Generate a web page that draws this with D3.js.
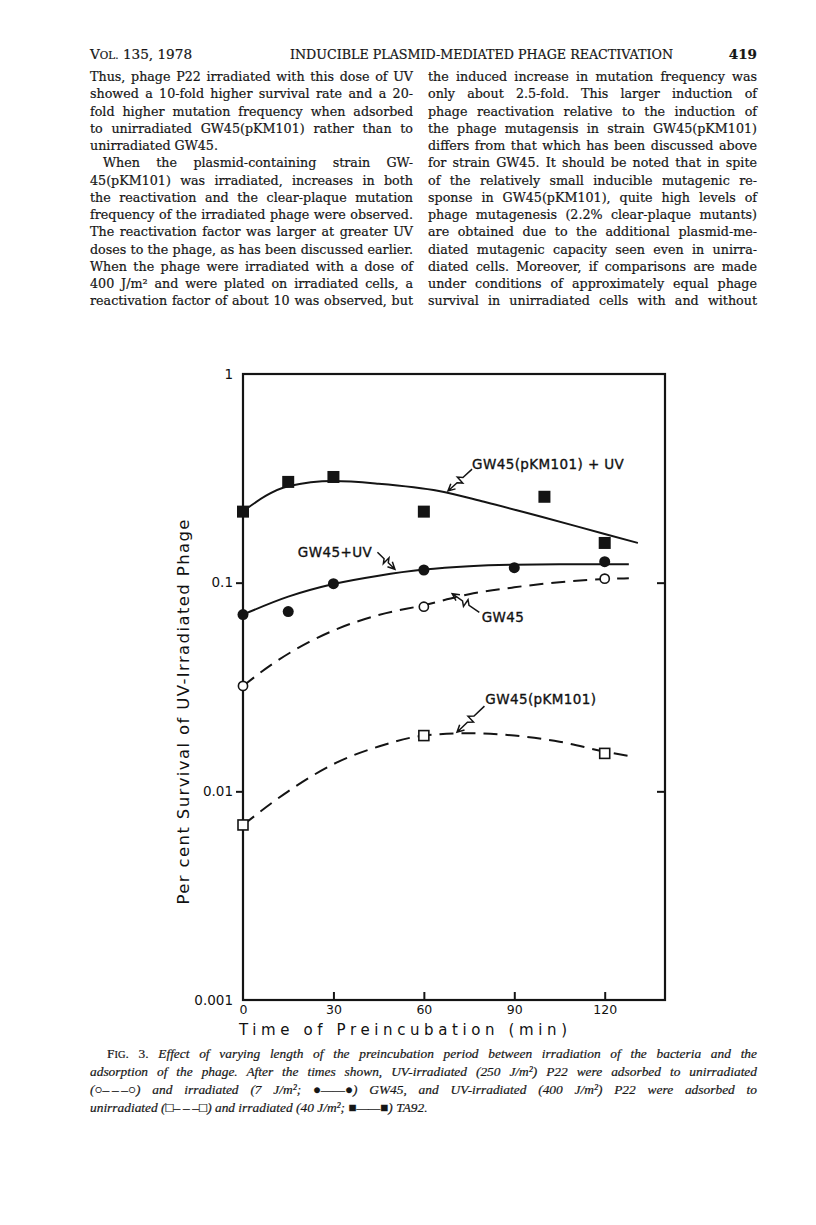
<!DOCTYPE html>
<html>
<head>
<meta charset="utf-8">
<script src="https://cdn.jsdelivr.net/npm/d3@7"></script>
<style>
  body { margin: 0; background: #fff; }
  svg { display: block; }
  .body-text { font-family: "DejaVu Serif", serif; font-size: 12.7px; fill: #161616; stroke: #161616; stroke-width: 0.2px; }
  .cap-text { font-family: "Liberation Serif", serif; font-size: 13.4px; font-style: italic; fill: #161616; stroke: #161616; stroke-width: 0.2px; }
  .chart-text { font-family: "DejaVu Sans", sans-serif; fill: #111; }
</style>
</head>
<body>
<script>
// PAGE TEXT
const headerLeft = ["V", "OL.", " 135, 1978"];
const headerTitle = "INDUCIBLE PLASMID-MEDIATED PHAGE REACTIVATION";
const headerPage = "419";

const leftLines = [
  "Thus, phage P22 irradiated with this dose of UV",
  "showed a 10-fold higher survival rate and a 20-",
  "fold higher mutation frequency when adsorbed",
  "to unirradiated GW45(pKM101) rather than to",
  "unirradiated GW45.",
  "When the plasmid-containing strain GW-",
  "45(pKM101) was irradiated, increases in both",
  "the reactivation and the clear-plaque mutation",
  "frequency of the irradiated phage were observed.",
  "The reactivation factor was larger at greater UV",
  "doses to the phage, as has been discussed earlier.",
  "When the phage were irradiated with a dose of",
  "400 J/m\u00b2 and were plated on irradiated cells, a",
  "reactivation factor of about 10 was observed, but",
];
const rightLines = [
  "the induced increase in mutation frequency was",
  "only about 2.5-fold. This larger induction of",
  "phage reactivation relative to the induction of",
  "the phage mutagensis in strain GW45(pKM101)",
  "differs from that which has been discussed above",
  "for strain GW45. It should be noted that in spite",
  "of the relatively small inducible mutagenic re-",
  "sponse in GW45(pKM101), quite high levels of",
  "phage mutagenesis (2.2% clear-plaque mutants)",
  "are obtained due to the additional plasmid-me-",
  "diated mutagenic capacity seen even in unirra-",
  "diated cells. Moreover, if comparisons are made",
  "under conditions of approximately equal phage",
  "survival in unirradiated cells with and without",
];
const captionLines = [
  "Effect of varying length of the preincubation period between irradiation of the bacteria and the",
  "adsorption of the phage. After the times shown, UV-irradiated (250 J/m\u00b2) P22 were adsorbed to unirradiated",
  "(\u25cb\u2013\u2009\u2013\u2009\u2013\u25cb) and irradiated (7 J/m\u00b2; \u25cf\u2014\u2014\u25cf) GW45, and UV-irradiated (400 J/m\u00b2) P22 were adsorbed to",
  "unirradiated (\u25a1\u2013\u2009\u2013\u2009\u2013\u25a1) and irradiated (40 J/m\u00b2; \u25a0\u2014\u2014\u25a0) TA92.",
];

// CHART DATA
const xTicks = [0, 30, 60, 90, 120];
const yTicks = [0.001, 0.01, 0.1, 1];
const yTickLabels = ["0.001", "0.01", "0.1", "1"];
const xLabel = "Time of Preincubation (min)";
const yLabel = "Per cent Survival of UV-Irradiated Phage";

// GW45(pKM101) + UV  (filled squares)
const pkmUvX = [0, 15, 30, 60, 100, 120];
const pkmUvY = [0.219, 0.304, 0.321, 0.219, 0.258, 0.155];
const pkmUvFitX = [0, 15, 30, 45, 65, 80, 99, 120, 131];
const pkmUvFitY = [0.22, 0.29, 0.307, 0.298, 0.275, 0.244, 0.207, 0.171, 0.155];

// GW45 + UV  (filled circles)
const gwUvX = [0, 15, 30, 60, 90, 120];
const gwUvY = [0.0703, 0.0727, 0.0989, 0.115, 0.118, 0.126];
const gwUvFitX = [0, 15, 30, 45, 60, 75, 90, 105, 120, 128];
const gwUvFitY = [0.0703, 0.0857, 0.0985, 0.108, 0.1155, 0.12, 0.122, 0.1225, 0.1225, 0.1225];

// GW45  (open circles)
const gwX = [0, 60, 120];
const gwY = [0.032, 0.0767, 0.1045];
const gwFitX = [0, 10, 22, 30, 45, 60, 75, 90, 105, 120, 128];
const gwFitY = [0.032, 0.041, 0.052, 0.059, 0.07, 0.078, 0.088, 0.095, 0.1005, 0.104, 0.105];

// GW45(pKM101)  (open squares)
const pkmX = [0, 60, 120];
const pkmY = [0.0069, 0.0185, 0.0152];
const pkmFitX = [0, 15, 30, 45, 60, 75, 90, 105, 120, 130];
const pkmFitY = [0.0069, 0.01, 0.0135, 0.0164, 0.0185, 0.019, 0.0185, 0.0173, 0.0155, 0.0146];

const seriesLabels = ["GW45(pKM101) + UV", "GW45+UV", "GW45", "GW45(pKM101)"];

const W = 816, H = 1225;
const ink = "#141414";

const svg = d3.select("body").append("svg").attr("width", W).attr("height", H);
svg.append("rect").attr("width", W).attr("height", H).attr("fill", "#fff");

// stretch the spaces so a line fills its column
function justify(sel, width) {
  sel.each(function () {
    const t = d3.select(this);
    const gaps = t.text().split(" ").length - 1;
    if (!gaps) return;
    const natural = this.getComputedTextLength();
    t.style("word-spacing", (width - natural) / gaps + "px");
  });
}

// HEADER
const hdr = svg.append("text").attr("class", "body-text").attr("x", 90).attr("y", 59).style("font-size", "13.6px");
hdr.append("tspan").text(headerLeft[0]);
hdr.append("tspan").style("font-size", "10.4px").text(headerLeft[1]);
hdr.append("tspan").text(headerLeft[2]);

svg.append("text").attr("class", "body-text")
  .attr("x", 290).attr("y", 59)
  .attr("textLength", 383).attr("lengthAdjust", "spacingAndGlyphs")
  .style("font-size", "13px")
  .text(headerTitle);

svg.append("text").attr("class", "body-text")
  .attr("x", 757).attr("y", 59).attr("text-anchor", "end")
  .style("font-size", "13.5px").style("font-weight", "bold")
  .text(headerPage);

// BODY COLUMNS
const lineY = (i) => 81 + i * 17.25;

svg.append("g").selectAll("text")
  .data(leftLines)
  .join("text")
  .attr("class", "body-text")
  .attr("x", (d, i) => (i === 5 ? 103 : 90))
  .attr("y", (d, i) => lineY(i))
  .text((d) => d)
  .each(function (d, i) {
    if (i !== 4) justify(d3.select(this), i === 5 ? 310 : 323);
  });

svg.append("g").selectAll("text")
  .data(rightLines)
  .join("text")
  .attr("class", "body-text")
  .attr("x", 428)
  .attr("y", (d, i) => lineY(i))
  .text((d) => d)
  .call(justify, 329);

// CHART
const x = d3.scaleLinear().domain([0, 140]).range([243, 665]);
const y = d3.scaleLog().domain([0.001, 1]).range([1000, 374]);

const chart = svg.append("g");

chart.append("rect")
  .attr("x", x(0)).attr("y", y(1))
  .attr("width", x(140) - x(0)).attr("height", y(0.001) - y(1))
  .attr("fill", "none").attr("stroke", ink).attr("stroke-width", 2.2);

const yl = chart.append("g")
  .attr("transform", `translate(${x(0)},0)`)
  .call(d3.axisLeft(y).tickValues(yTicks).tickSize(7).tickPadding(3)
    .tickFormat((d, i) => yTickLabels[i]));
yl.select(".domain").remove();
yl.selectAll(".tick line").attr("stroke", ink).attr("stroke-width", 2)
  .filter((d) => d === 1 || d === 0.001).remove();
yl.selectAll(".tick text").attr("class", "chart-text")
  .style("font-size", "13.5px").attr("x", -10).attr("fill", ink);

const yr = chart.append("g")
  .attr("transform", `translate(${x(140)},0)`)
  .call(d3.axisLeft(y).tickValues([0.01, 0.1]).tickSize(-8).tickFormat(""));
yr.select(".domain").remove();
yr.selectAll(".tick line").attr("stroke", ink).attr("stroke-width", 2)
  .attr("x2", -8);

const xa = chart.append("g")
  .attr("transform", `translate(0,${y(0.001)})`)
  .call(d3.axisBottom(x).tickValues(xTicks).tickSize(-8));
xa.select(".domain").remove();
xa.selectAll(".tick line").attr("stroke", ink).attr("stroke-width", 2)
  .filter((d) => d === 0).remove();
xa.selectAll(".tick text").attr("class", "chart-text")
  .style("font-size", "12.5px").attr("fill", ink).attr("dy", "0.35em").attr("y", 10);

chart.append("text").attr("class", "chart-text")
  .attr("x", 403).attr("y", 1035).attr("text-anchor", "middle")
  .attr("textLength", 328).attr("lengthAdjust", "spacing")
  .style("font-size", "15px")
  .text(xLabel);

chart.append("text").attr("class", "chart-text")
  .attr("transform", "translate(189,712) rotate(-90)")
  .attr("text-anchor", "middle")
  .attr("textLength", 385).attr("lengthAdjust", "spacing")
  .style("font-size", "16.5px")
  .text(yLabel);

// FITTED CURVES
const line = d3.line()
  .x((d) => x(d[0]))
  .y((d) => y(d[1]))
  .curve(d3.curveMonotoneX);

const fits = [
  { xs: pkmUvFitX, ys: pkmUvFitY, dash: null },
  { xs: gwUvFitX, ys: gwUvFitY, dash: null },
  { xs: gwFitX, ys: gwFitY, dash: "14,8" },
  { xs: pkmFitX, ys: pkmFitY, dash: "14,8" },
];

chart.append("g").selectAll("path")
  .data(fits)
  .join("path")
  .attr("d", (d) => line(d3.zip(d.xs, d.ys)))
  .attr("fill", "none")
  .attr("stroke", ink)
  .attr("stroke-width", 2)
  .attr("stroke-dasharray", (d) => d.dash);

// MARKERS
const pts = chart.append("g");

pts.selectAll("rect.fsq")
  .data(d3.zip(pkmUvX, pkmUvY))
  .join("rect")
  .attr("class", "fsq")
  .attr("x", (d) => x(d[0]) - 6).attr("y", (d) => y(d[1]) - 6)
  .attr("width", 12).attr("height", 12)
  .attr("fill", ink);

pts.selectAll("circle.fci")
  .data(d3.zip(gwUvX, gwUvY))
  .join("circle")
  .attr("class", "fci")
  .attr("cx", (d) => x(d[0])).attr("cy", (d) => y(d[1]))
  .attr("r", 5.5)
  .attr("fill", ink);

pts.selectAll("circle.oci")
  .data(d3.zip(gwX, gwY))
  .join("circle")
  .attr("class", "oci")
  .attr("cx", (d) => x(d[0])).attr("cy", (d) => y(d[1]))
  .attr("r", 4.6)
  .attr("fill", "#fff").attr("stroke", ink).attr("stroke-width", 1.6);

pts.selectAll("rect.osq")
  .data(d3.zip(pkmX, pkmY))
  .join("rect")
  .attr("class", "osq")
  .attr("x", (d) => x(d[0]) - 5).attr("y", (d) => y(d[1]) - 5)
  .attr("width", 10).attr("height", 10)
  .attr("fill", "#fff").attr("stroke", ink).attr("stroke-width", 1.6);

// LABELS + SQUIGGLE ARROWS  (anchor points in data units)
const notes = [
  { text: seriesLabels[0], at: [76, 0.352], tail: [76, 0.35], tip: [68, 0.275] },
  { text: seriesLabels[1], at: [18.2, 0.133], tail: [44.6, 0.14], tip: [50.4, 0.116] },
  { text: seriesLabels[2], at: [79.2, 0.065], tail: [78.4, 0.072], tip: [69.4, 0.0885] },
  { text: seriesLabels[3], at: [80.4, 0.0262], tail: [80.1, 0.0256], tip: [71, 0.0192] },
];

chart.append("g").selectAll("text")
  .data(notes)
  .join("text")
  .attr("class", "chart-text")
  .attr("x", (d) => x(d.at[0])).attr("y", (d) => y(d.at[1]))
  .style("font-size", "13.5px")
  .style("letter-spacing", "0.4px")
  .attr("stroke", ink).attr("stroke-width", 0.35)
  .text((d) => d.text);

function squiggle(d) {
  const x0 = x(d.tail[0]), y0 = y(d.tail[1]);
  const x1 = x(d.tip[0]), y1 = y(d.tip[1]);
  const dx = x1 - x0, dy = y1 - y0;
  const len = Math.hypot(dx, dy);
  const ux = dx / len, uy = dy / len;
  const nx = -uy, ny = ux;
  const p = (t, o) => [x0 + dx * t + nx * o, y0 + dy * t + ny * o];
  const body = [p(0, 0), p(0.38, 0), p(0.5, 4), p(0.5, -4), p(0.62, 0), p(1, 0)];
  const head = [
    [x1 - ux * 7 + nx * 3.5, y1 - uy * 7 + ny * 3.5],
    [x1, y1],
    [x1 - ux * 7 - nx * 3.5, y1 - uy * 7 - ny * 3.5],
  ];
  return d3.line()(body) + d3.line()(head);
}

chart.append("g").selectAll("path")
  .data(notes)
  .join("path")
  .attr("d", squiggle)
  .attr("fill", "none")
  .attr("stroke", ink)
  .attr("stroke-width", 1.5)
  .attr("stroke-linejoin", "miter");

// CAPTION
const capY = (i) => 1058 + i * 18;

const cap0 = svg.append("text").attr("class", "cap-text").attr("x", 107).attr("y", capY(0));
cap0.append("tspan").style("font-style", "normal").text("F");
cap0.append("tspan").style("font-style", "normal").style("font-size", "10.4px").text("IG");
cap0.append("tspan").style("font-style", "normal").text(". 3. ");
cap0.append("tspan").text(captionLines[0]);
justify(cap0, 650);

svg.append("g").selectAll("text")
  .data(captionLines.slice(1))
  .join("text")
  .attr("class", "cap-text")
  .attr("x", 90)
  .attr("y", (d, i) => capY(i + 1))
  .text((d) => d)
  .each(function (d, i) {
    if (i < 2) justify(d3.select(this), 667);
  });
</script>
</body>
</html>
